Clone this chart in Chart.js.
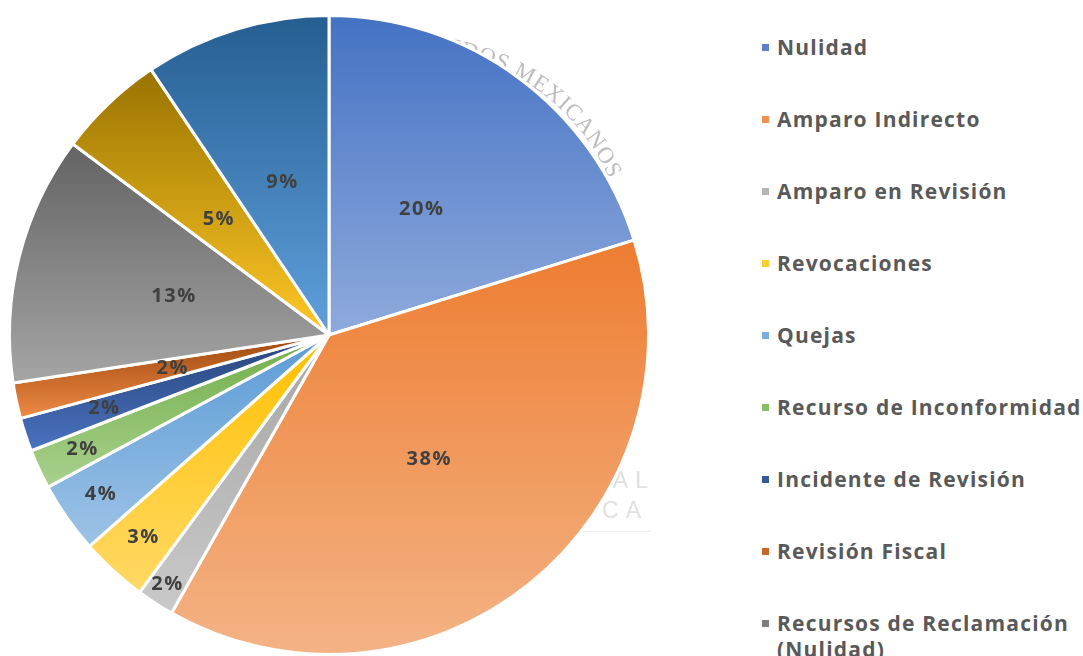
<!DOCTYPE html>
<html>
<head>
<meta charset="utf-8">
<script src="https://cdn.jsdelivr.net/npm/chart.js@4.4.1/dist/chart.umd.min.js"></script>
<style>
  html, body { margin: 0; padding: 0; background: #fff; width: 1083px; height: 656px; overflow: hidden; }
  #chartBox { position: absolute; left: 0; top: 0; width: 658px; height: 670px; }
  #legend { position: absolute; left: 762px; top: 34px; width: 340px; margin: 0; padding: 0; list-style: none;
    font-family: "Open Sans", sans-serif; font-weight: 700; font-size: 21px; letter-spacing: 1.2px; color: #595959; }
  #legend li { position: relative; padding-left: 15px; line-height: 26px; margin-bottom: 46px; }
  #legend li span.box { position: absolute; left: 0; top: 10px; width: 7px; height: 7px; }
</style>
</head>
<body>
<div id="chartBox"><canvas id="pie" width="658" height="670"></canvas></div>
<ul id="legend"></ul>
<script>
const categories = [
  'Nulidad',
  'Amparo Indirecto',
  'Amparo en Revisión',
  'Revocaciones',
  'Quejas',
  'Recurso de Inconformidad',
  'Incidente de Revisión',
  'Revisión Fiscal',
  'Recursos de Reclamación (Nulidad)',
  'Recursos de Reclamación (Amparo)',
  'Otros'
];
const shares = [20.2, 38.0, 1.9, 3.4, 3.6, 2.0, 1.7, 1.8, 12.6, 5.4, 9.4];

// gradient fill per slice: top colour -> bottom colour
const topColors = ['#4472C4', '#ED7D31', '#A5A5A5', '#FFC000', '#5B9BD5', '#70AD47',
                   '#264478', '#9E480E', '#636363', '#997300', '#255E91'];
const bottomColors = ['#8FAADC', '#F4B385', '#C9C9C9', '#FFD966', '#9DC3E6', '#A9D18E',
                      '#4A72C0', '#EE8A45', '#A5A5A5', '#FFC826', '#5FA0DC'];
const legendColors = ['#5A80CC', '#EF8F50', '#B5B5B5', '#FFCC33', '#78AEDD', '#86BD67',
                      '#345A9E', '#C8652A', '#7E7E7E', '#C99A12', '#3E7DB5'];
// how far out (fraction of radius) each percentage label sits
const labelRadius = [0.49, 0.5, 0.93, 0.86, 0.87, 0.85, 0.74, 0.5, 0.5, 0.5, 0.5];

// faint seal watermark behind the pie
const watermarkPlugin = {
  id: 'watermark',
  beforeDatasetsDraw(chart) {
    const ctx = chart.ctx;
    ctx.save();
    ctx.font = '23px "Liberation Serif"';
    ctx.fillStyle = '#bdbdbd';
    ctx.textAlign = 'left';
    ctx.textBaseline = 'alphabetic';
    const text = 'ESTADOS UNIDOS MEXICANOS';
    const cx = 415, cy = 262, r = 211;
    const widths = [...text].map(ch => ctx.measureText(ch).width + 1);
    const total = widths.reduce((a, b) => a + b, 0) / r;
    let ang = -0.40 - total;
    [...text].forEach((ch, i) => {
      ctx.save();
      ctx.translate(cx + Math.cos(ang) * r, cy + Math.sin(ang) * r);
      ctx.rotate(ang + Math.PI / 2);
      ctx.fillText(ch, 0, 0);
      ctx.restore();
      ang += widths[i] / r;
    });
    ctx.font = '23px "Liberation Sans"';
    ctx.fillStyle = '#e0e0e0';
    ctx.textAlign = 'right';
    ctx.letterSpacing = '7px';
    ctx.fillText('FISCAL', 655, 488);
    ctx.fillText('PÚBLICA', 648, 518);
    ctx.fillStyle = '#eeeeee';
    ctx.fillRect(575, 531, 76, 1);
    ctx.restore();
  }
};

const gradientPlugin = {
  id: 'sliceGradient',
  beforeDatasetsDraw(chart) {
    const ctx = chart.ctx;
    chart.getDatasetMeta(0).data.forEach((arc, i) => {
      let yMin = arc.y, yMax = arc.y;
      const steps = 60;
      for (let s = 0; s <= steps; s++) {
        const a = arc.startAngle + (arc.endAngle - arc.startAngle) * s / steps;
        const y = arc.y + Math.sin(a) * arc.outerRadius;
        yMin = Math.min(yMin, y);
        yMax = Math.max(yMax, y);
      }
      const g = ctx.createLinearGradient(0, yMin, 0, yMax);
      g.addColorStop(0, topColors[i]);
      g.addColorStop(1, bottomColors[i]);
      arc.options.backgroundColor = g;
    });
  }
};

const labelPlugin = {
  id: 'pctLabels',
  afterDatasetsDraw(chart) {
    const ctx = chart.ctx;
    const data = chart.data.datasets[0].data;
    const total = data.reduce((a, b) => a + b, 0);
    ctx.save();
    ctx.font = '700 20px "Open Sans"';
    ctx.letterSpacing = '1.5px';
    ctx.fillStyle = '#404040';
    ctx.textAlign = 'center';
    ctx.textBaseline = 'middle';
    chart.getDatasetMeta(0).data.forEach((arc, i) => {
      const mid = (arc.startAngle + arc.endAngle) / 2;
      const r = arc.outerRadius * labelRadius[i];
      const txt = Math.round(data[i] / total * 100) + '%';
      ctx.fillText(txt, arc.x + Math.cos(mid) * r, arc.y + Math.sin(mid) * r);
    });
    ctx.restore();
  }
};

const pieChart = new Chart(document.getElementById('pie'), {
  type: 'pie',
  data: {
    labels: categories,
    datasets: [{
      data: shares,
      backgroundColor: topColors,
      borderColor: '#ffffff',
      borderWidth: 3
    }]
  },
  options: {
    responsive: false,
    animation: false,
    layout: { padding: 8 },
    plugins: {
      legend: { display: false },
      tooltip: { enabled: false }
    }
  },
  plugins: [watermarkPlugin, gradientPlugin, labelPlugin]
});

// legend on the right, built from the chart's own legend items
const legendEl = document.getElementById('legend');
pieChart.options.plugins.legend.labels.generateLabels(pieChart).forEach((item, i) => {
  const li = document.createElement('li');
  const box = document.createElement('span');
  box.className = 'box';
  box.style.background = legendColors[i];
  li.appendChild(box);
  li.appendChild(document.createTextNode(item.text));
  legendEl.appendChild(li);
});
</script>
</body>
</html>
